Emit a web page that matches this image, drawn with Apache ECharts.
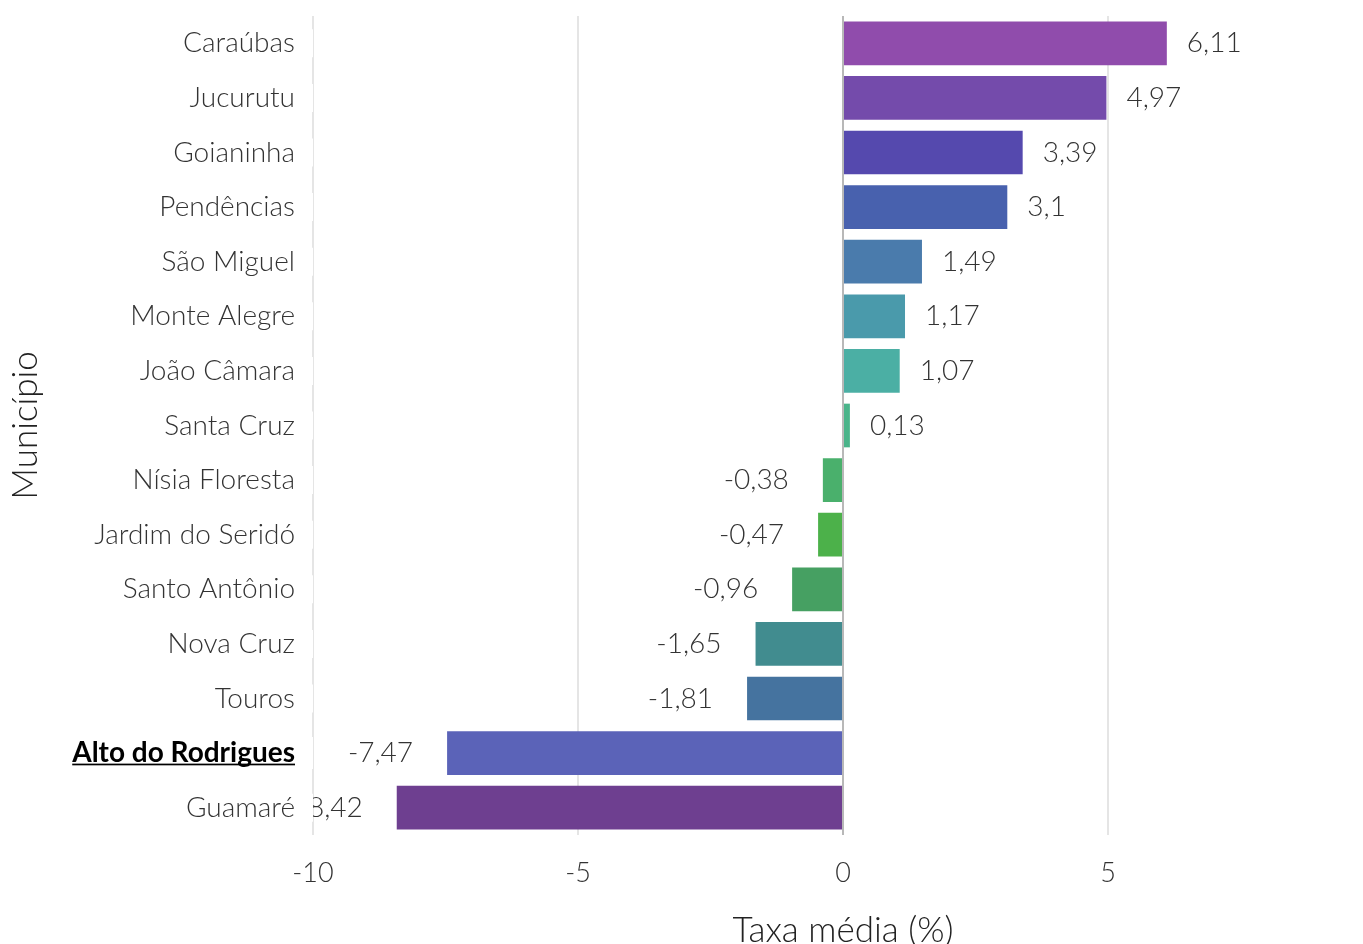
<!DOCTYPE html>
<html>
<head>
<meta charset="utf-8">
<script src="https://cdn.jsdelivr.net/npm/echarts@6/dist/echarts.min.js"></script>
<style>
  html, body { margin: 0; padding: 0; background: #fff; }
  #chart { width: 1363px; height: 944px; }
</style>
</head>
<body>
<div id="chart"></div>
<script>
// municípios, de cima para baixo
const municipios = ['Caraúbas', 'Jucurutu', 'Goianinha', 'Pendências', 'São Miguel', 'Monte Alegre',
  'João Câmara', 'Santa Cruz', 'Nísia Floresta', 'Jardim do Seridó', 'Santo Antônio', 'Nova Cruz',
  'Touros', 'Alto do Rodrigues', 'Guamaré'];
const taxas = [6.11, 4.97, 3.39, 3.1, 1.49, 1.17, 1.07, 0.13, -0.38, -0.47, -0.96, -1.65, -1.81, -7.47, -8.42];
const cores = ['#904cac', '#744bab', '#5549ae', '#4861ae', '#4a7bac', '#4a9aab', '#4bafa4', '#4ab48a',
  '#4ab06c', '#4cb14a', '#46a062', '#418c8f', '#45739f', '#5b63b8', '#6e3f90'];
const destaque = 'Alto do Rodrigues';
const xTicks = [-10, -5, 0, 5];

const fonte = 'Lato, "Noto Sans", sans-serif';

// sublinhado do município em destaque (imagem esticada como fundo do texto)
const sub = document.createElement('canvas');
sub.width = 10;
sub.height = 32;
const ctx = sub.getContext('2d');
ctx.fillStyle = '#000';
ctx.fillRect(0, 28, 10, 2);

const fmt = v => String(v).replace('.', ',');

const data = taxas.map((v, i) => ({
  value: v,
  itemStyle: { color: cores[i] },
  label: v >= 0 ? { position: 'right', distance: 20 } : { position: 'left', distance: 34 },
}));

const myChart = echarts.init(document.getElementById('chart'));

const option = {
  animation: false,
  grid: {
    left: 313,
    width: 1060,
    top: 16,
    bottom: 109,
    outerBoundsMode: 'none',
  },
  xAxis: {
    type: 'value',
    min: -10,
    max: 10,
    interval: 5,
    name: 'Taxa média (%)',
    nameLocation: 'middle',
    nameGap: 78,
    nameTextStyle: { fontFamily: fonte, fontWeight: 300, fontSize: 35, color: '#222' },
    axisLine: { show: false },
    axisTick: { show: false },
    axisLabel: {
      margin: 25,
      fontFamily: fonte,
      fontWeight: 300,
      fontSize: 27,
      color: '#333',
      formatter: v => (xTicks.indexOf(v) >= 0 ? fmt(v) : ''),
    },
    splitLine: { show: true, lineStyle: { color: '#dcdcdc', width: 1.5 } },
  },
  yAxis: {
    type: 'category',
    inverse: true,
    data: municipios,
    z: 10,
    name: 'Município',
    nameLocation: 'middle',
    nameGap: 270,
    nameTextStyle: { fontFamily: fonte, fontWeight: 300, fontSize: 35, color: '#222' },
    axisLine: { show: false, onZero: false },
    axisTick: { show: false },
    axisLabel: {
      margin: 0,
      padding: [0, 18, 0, 0],
      backgroundColor: '#fff',
      fontFamily: fonte,
      fontWeight: 300,
      fontSize: 28,
      color: '#333',
      formatter: v => (v === destaque ? '{b|' + v + '}' : v),
      rich: {
        b: {
          fontFamily: fonte,
          fontWeight: 'bold',
          fontSize: 28,
          color: '#000',
          lineHeight: 32,
          backgroundColor: { image: sub },
        },
      },
    },
  },
  series: [
    {
      type: 'bar',
      data,
      barCategoryGap: '20%',
      label: {
        show: true,
        fontFamily: fonte,
        fontWeight: 300,
        fontSize: 28,
        color: '#333',
        formatter: p => fmt(p.value),
      },
      markLine: {
        silent: true,
        symbol: 'none',
        label: { show: false },
        lineStyle: { color: '#b8b8b8', width: 2, type: 'solid' },
        data: [{ xAxis: 0 }],
      },
    },
  ],
};

myChart.setOption(option);
</script>
</body>
</html>
